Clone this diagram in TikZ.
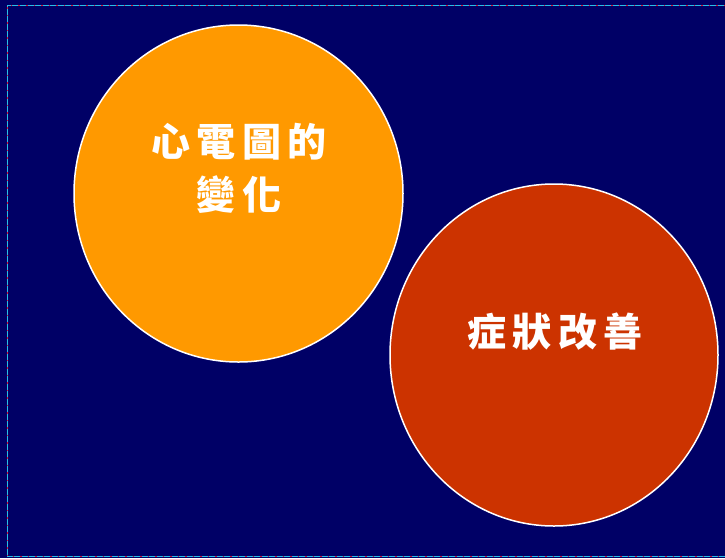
\documentclass[tikz,border=0pt]{standalone}
\usepackage{fontspec}
\newfontfamily\cjk[LetterSpace=16]{Noto Sans CJK TC}
\definecolor{navy}{RGB}{0,0,102}
\definecolor{orangefill}{RGB}{255,153,0}
\definecolor{redfill}{RGB}{204,51,0}
\definecolor{bordercyan}{RGB}{40,190,230}
\definecolor{borderred}{RGB}{220,20,60}
\tikzset{
  bubble/.style={ellipse, draw=white, line width=1.5pt, inner sep=0pt},
  bubbletext/.style={text=white, font=\cjk\bfseries\fontsize{39}{53}\selectfont, align=center},
  framecyan/.style={draw=bordercyan, line width=1pt},
  framered/.style={draw=borderred, line width=1pt, dash pattern=on 1.5pt off 6pt},
}
\usetikzlibrary{shapes.geometric}
\begin{document}
\begin{tikzpicture}[x=1pt,y=-1pt]
\fill[navy] (0,0) rectangle (725,558);
\useasboundingbox (0,0) rectangle (725,558);
\coordinate (tl) at (7,5);
\coordinate (tr) at (725,5);
\coordinate (bl) at (7,556.5);
\coordinate (br) at (725,556.5);
\draw[framecyan] (tr) -- (tl) -- (bl) -- (br);
\draw[framered] (tr) -- (tl) -- (bl) -- (br);
\node[bubble, fill=orangefill, minimum width=329pt, minimum height=337pt] (ecg) at (238.5,193.5) {};
\node[bubble, fill=redfill, minimum width=328pt, minimum height=342pt] (sym) at (554,355) {};
\node[bubbletext] (ecgtext) at (239,168) {心電圖的\\變化};
\node[bubbletext] (symtext) at (555,332) {症狀改善};
\end{tikzpicture}
\end{document}
